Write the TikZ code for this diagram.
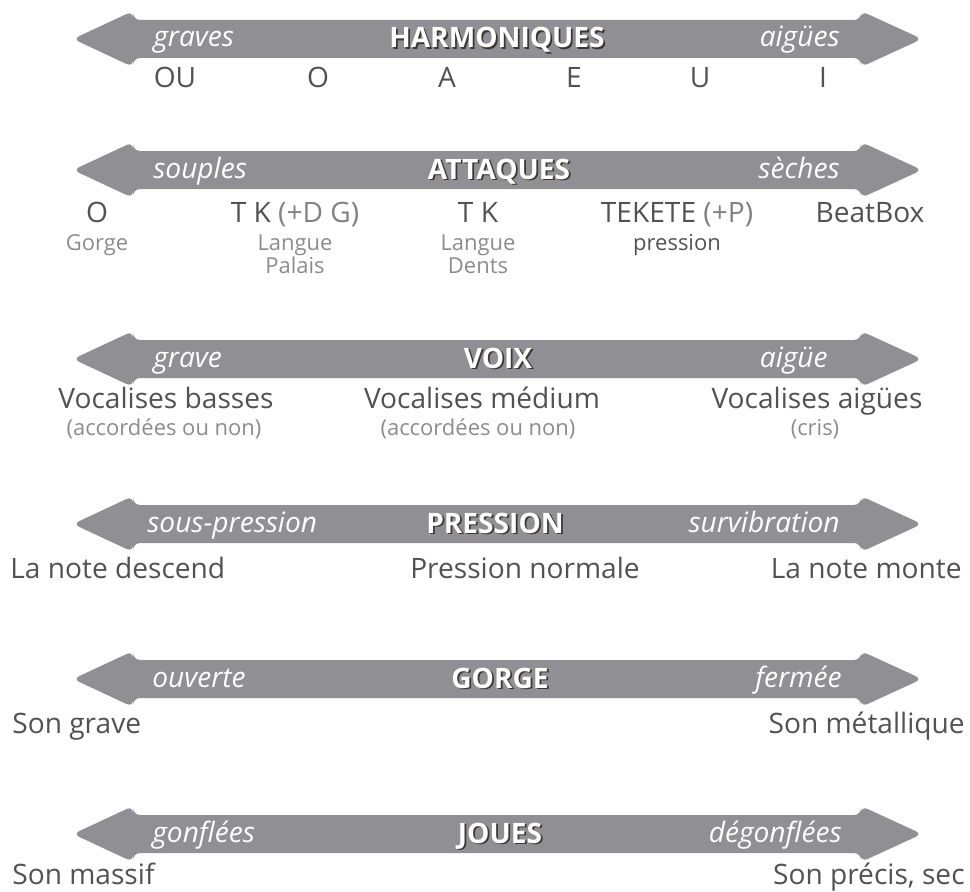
\documentclass[tikz,border=0pt]{standalone}
\usepackage{fontspec}
\setmainfont{Open Sans}
\definecolor{bargray}{RGB}{143,143,148}
\definecolor{ink}{RGB}{82,82,84}
\definecolor{soft}{RGB}{140,140,142}
\definecolor{shade}{RGB}{62,54,50}
\newcommand{\headtext}[1]{\makebox[0pt][l]{\hspace{1pt}\raisebox{-1pt}{\textcolor{shade}{#1}}}\textcolor{white}{#1}}
\begin{document}
\begin{tikzpicture}[x=0.02cm, y=-0.02cm,
    tagleft/.style={font=\itshape\fontsize{16}{16}\selectfont, text=white, anchor=base west, inner sep=0pt},
    tagright/.style={font=\itshape\fontsize{16}{16}\selectfont, text=white, anchor=base east, inner sep=0pt},
    title/.style={font=\bfseries\fontsize{16}{16}\selectfont, anchor=base, inner sep=0pt},
    item/.style={font=\fontsize{16}{16}\selectfont, text=ink, anchor=base, inner sep=0pt},
    note/.style={font=\fontsize{12.5}{12.5}\selectfont, text=soft, anchor=base, inner sep=0pt}]
    \useasboundingbox (0,0) rectangle (970,892);

    % Scales
    \foreach \c in {39,170,359,524,679,834} {
        \fill[bargray, rounded corners=4pt] (73,\c) -- (133,\c-28) -- (133,\c-19) -- (861,\c-19)
            -- (861,\c-28) -- (922,\c) -- (861,\c+28) -- (861,\c+19) -- (133,\c+19) -- (133,\c+28) -- cycle;
    }

    % Harmoniques
    \node[tagleft] (har-l) at (153,47) {graves};
    \node[title] (har-t) at (497,48) {\headtext{HARMONIQUES}};
    \node[tagright] (har-r) at (840,47) {aigües};
    \node[item] (har-ou) at (175,88) {OU};
    \node[item] (har-o) at (318,88) {O};
    \node[item] (har-a) at (447,88) {A};
    \node[item] (har-e) at (574,88) {E};
    \node[item] (har-u) at (700,88) {U};
    \node[item] (har-i) at (823,88) {I};

    % Attaques
    \node[tagleft] (att-l) at (153,178) {souples};
    \node[title] (att-t) at (499,179) {\headtext{ATTAQUES}};
    \node[tagright] (att-r) at (840,178) {sèches};
    \node[item] (att-o) at (97,222) {O};
    \node[item] (att-tkdg) at (295,222) {T K {\color{soft!80!ink}(+D G)}};
    \node[item] (att-tk) at (478,222) {T K};
    \node[item] (att-tek) at (677,222) {TEKETE {\color{soft!80!ink}(+P)}};
    \node[item] (att-bb) at (870,222) {BeatBox};
    \node[note] (att-gorge) at (97,250) {Gorge};
    \node[note] (att-lang1) at (295,250) {Langue};
    \node[note] (att-palais) at (295,273) {Palais};
    \node[note] (att-lang2) at (478,250) {Langue};
    \node[note] (att-dents) at (478,273) {Dents};
    \node[note, text=ink] (att-press) at (677,250) {pression};

    % Voix
    \node[tagleft] (voi-l) at (153,367) {grave};
    \node[title] (voi-t) at (498,368) {\headtext{VOIX}};
    \node[tagright] (voi-r) at (828,367) {aigüe};
    \node[item] (voi-bas) at (166,408) {Vocalises basses};
    \node[item] (voi-med) at (482,408) {Vocalises médium};
    \node[item] (voi-aig) at (817,408) {Vocalises aigües};
    \node[note] (voi-n1) at (164,435) {(accordées ou non)};
    \node[note] (voi-n2) at (478,435) {(accordées ou non)};
    \node[note] (voi-n3) at (815,435) {(cris)};

    % Pression
    \node[tagleft] (pre-l) at (147,532) {sous-pression};
    \node[title] (pre-t) at (495,533) {\headtext{PRESSION}};
    \node[tagright] (pre-r) at (840,532) {survibration};
    \node[item, anchor=base west] (pre-desc) at (10,578) {La note descend};
    \node[item] (pre-norm) at (525,578) {Pression normale};
    \node[item, anchor=base east] (pre-mont) at (962,578) {La note monte};

    % Gorge
    \node[tagleft] (gor-l) at (152,687) {ouverte};
    \node[title] (gor-t) at (500,688) {\headtext{GORGE}};
    \node[tagright] (gor-r) at (842,687) {fermée};
    \node[item, anchor=base west] (gor-grave) at (12,733) {Son grave};
    \node[item, anchor=base east] (gor-met) at (965,733) {Son métallique};

    % Joues
    \node[tagleft] (jou-l) at (152,842) {gonflées};
    \node[title] (jou-t) at (500,843) {\headtext{JOUES}};
    \node[tagright] (jou-r) at (842,842) {dégonflées};
    \node[item, anchor=base west] (jou-mas) at (12,884) {Son massif};
    \node[item, anchor=base east] (jou-sec) at (965,884) {Son précis, sec};
\end{tikzpicture}
\end{document}
